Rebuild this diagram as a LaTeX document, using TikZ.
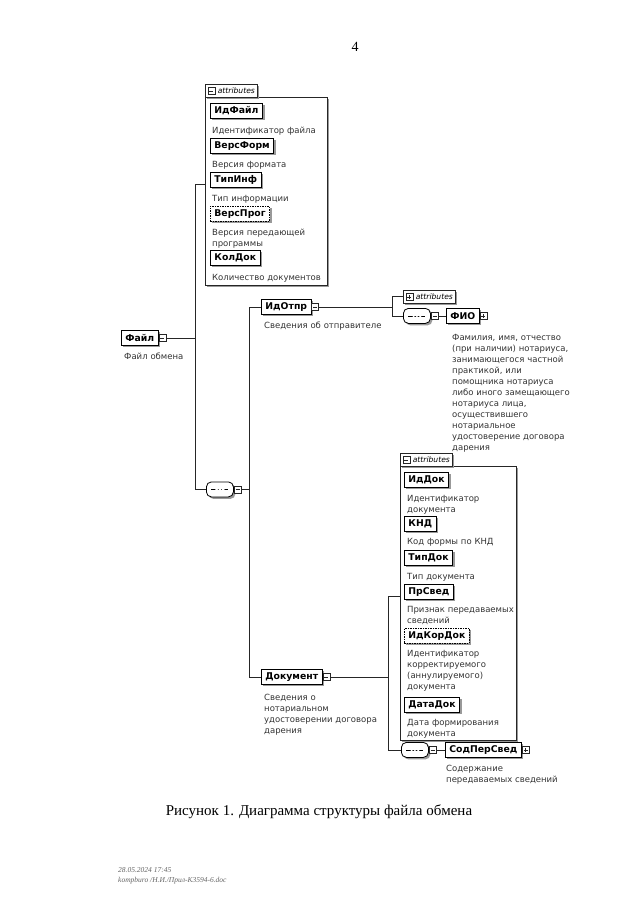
\documentclass[tikz,border=0pt]{standalone}
\usepackage{fontspec}
\setmainfont{Liberation Serif}
\newfontfamily\dg{DejaVu Sans}
\usetikzlibrary{shadows}
\tikzset{
  conn/.style={draw=black!85, line width=0.8pt},
  shad/.style={drop shadow={shadow xshift=2pt, shadow yshift=-2pt, fill=black!40, opacity=1}},
  elem/.style={draw=black, line width=0.8pt, fill=white, anchor=north west, inner xsep=4pt, inner ysep=0pt, minimum height=15pt, font=\dg\bfseries\fontsize{9.3}{10}\selectfont, shad},
  optelem/.style={elem, dash pattern=on 1.5pt off 1pt},
  desc/.style={anchor=base west, inner sep=0pt, text width=150pt, align=left, font=\dg\fontsize{8.5}{11}\selectfont, text=black!80},
  iconbox/.style={draw=black!85, line width=0.5pt, fill=white, minimum size=7pt, inner sep=0pt, anchor=west},
  iconm/.style={iconbox, path picture={\draw[line width=0.5pt] ([xshift=1.5pt]path picture bounding box.west) -- ([xshift=-1.5pt]path picture bounding box.east);}},
  iconp/.style={iconbox, path picture={\draw[line width=0.5pt] ([xshift=1.5pt]path picture bounding box.west) -- ([xshift=-1.5pt]path picture bounding box.east); \draw[line width=0.5pt] ([yshift=-1.5pt]path picture bounding box.north) -- ([yshift=1.5pt]path picture bounding box.south);}},
  seqn/.style={draw=black, line width=0.8pt, fill=white, rounded corners=5pt, anchor=north west, minimum width=27pt, minimum height=15pt, inner sep=0pt, shad, path picture={\draw[line width=0.6pt] ([xshift=5pt]path picture bounding box.west) -- ([xshift=-5pt]path picture bounding box.east); \fill ([xshift=-3.3pt]path picture bounding box.center) circle (1.4pt) (path picture bounding box.center) circle (1.4pt) ([xshift=3.3pt]path picture bounding box.center) circle (1.4pt);}},
  tabn/.style={draw=black!85, line width=0.6pt, fill=white, anchor=north west, minimum height=13pt, inner xsep=2.5pt, inner ysep=0pt, font=\dg\itshape\fontsize{7.6}{8}\selectfont, shad},
  cont/.style={draw=black!85, line width=0.6pt, fill=white, anchor=north west, inner sep=0pt, shad},
  foot/.style={anchor=base west, inner sep=0pt, font=\itshape\fontsize{7.5}{8}\selectfont, text=black!60}
}
\begin{document}
\begin{tikzpicture}[x=1pt,y=-1pt]
\useasboundingbox[fill=white] (0,0) rectangle (640,923);
\node[font=\fontsize{14}{16}\selectfont] (pnum) at (355,47) {4};

% attributes of Файл
\node[cont, minimum width=122pt, minimum height=188pt] (attr1) at (205,97) {};
\node[tabn] (attr1tab) at (205,84) {\hspace*{10pt}attributes};
\node[iconm] (attr1ic) at ([xshift=2.5pt]attr1tab.west) {};
\node[elem] (idfile) at (210,103) {ИдФайл};
\node[desc] (idfiled) at (212,133) {Идентификатор файла};
\node[elem] (versform) at (210,138) {ВерсФорм};
\node[desc] (versformd) at (212,167) {Версия формата};
\node[elem] (tipinf) at (210,172) {ТипИнф};
\node[desc] (tipinfd) at (212,201) {Тип информации};
\node[optelem] (versprog) at (210,206) {ВерсПрог};
\node[desc] (versprogd) at (212,235) {Версия передающей\\программы};
\node[elem] (koldok) at (210,250) {КолДок};
\node[desc] (koldokd) at (212,280) {Количество документов};
\coordinate (attr1in) at (205,184);

% Файл
\node[elem] (file) at (121,330) {Файл};
\node[iconm] (fileic) at (file.east) {};
\node[desc] (filed) at (124,359) {Файл обмена};
\coordinate (j1) at (195,0);

\node[seqn] (seq1) at (206,481.5) {};
\node[iconm] (seq1ic) at (seq1.east) {};
\coordinate (j2) at (249,0);

% ИдОтпр
\node[elem] (idotpr) at (261,299) {ИдОтпр};
\node[iconm] (idotpric) at (idotpr.east) {};
\node[desc] (idotprd) at (264,328) {Сведения об отправителе};
\coordinate (j3) at (392,0);
\node[tabn] (attr2) at (403,290) {\hspace*{10pt}attributes};
\node[iconp] (attr2ic) at ([xshift=2.5pt]attr2.west) {};
\node[seqn] (seq2) at (403,308) {};
\node[iconm] (seq2ic) at (seq2.east) {};
\node[elem] (fio) at (446,308) {ФИО};
\node[iconp] (fioic) at (fio.east) {};
\node[desc] (fiod) at (452,340) {Фамилия, имя, отчество\\(при наличии) нотариуса,\\занимающегося частной\\практикой, или\\помощника нотариуса\\либо иного замещающего\\нотариуса лица,\\осуществившего\\нотариальное\\удостоверение договора\\дарения};

% Документ
\node[elem] (dok) at (261,669) {Документ};
\node[iconm] (dokic) at (dok.east) {};
\node[desc] (dokd) at (264,700) {Сведения о\\нотариальном\\удостоверении договора\\дарения};
\coordinate (j4) at (388,0);
\node[cont, minimum width=116pt, minimum height=274pt] (attr3) at (400,466) {};
\node[tabn] (attr3tab) at (400,453) {\hspace*{10pt}attributes};
\node[iconm] (attr3ic) at ([xshift=2.5pt]attr3tab.west) {};
\coordinate (attr3in) at (400,596);
\node[elem] (iddok) at (404,472) {ИдДок};
\node[desc] (iddokd) at (407,501) {Идентификатор\\документа};
\node[elem] (knd) at (404,516) {КНД};
\node[desc] (kndd) at (407,544) {Код формы по КНД};
\node[elem] (tipdok) at (404,550) {ТипДок};
\node[desc] (tipdokd) at (407,579) {Тип документа};
\node[elem] (prsved) at (404,584) {ПрСвед};
\node[desc] (prsvedd) at (407,612) {Признак передаваемых\\сведений};
\node[optelem] (idkordok) at (404,628) {ИдКорДок};
\node[desc] (idkordokd) at (407,656) {Идентификатор\\корректируемого\\(аннулируемого)\\документа};
\node[elem] (datadok) at (404,697) {ДатаДок};
\node[desc] (datadokd) at (407,725) {Дата формирования\\документа};

\node[seqn] (seq3) at (401,742) {};
\node[iconm] (seq3ic) at (seq3.east) {};
\node[elem] (sod) at (445,742) {СодПерСвед};
\node[iconp] (sodic) at (sod.east) {};
\node[desc] (sodd) at (446,771) {Содержание\\передаваемых сведений};

% connectors
\draw[conn] (fileic.east) -- (fileic.east -| j1);
\draw[conn] (attr1in) -- (attr1in -| j1) -- (seq1.west -| j1) -- (seq1.west);
\draw[conn] (seq1ic.east) -- (seq1ic.east -| j2);
\draw[conn] (idotpr.west) -- (idotpr.west -| j2) -- (dok.west -| j2) -- (dok.west);
\draw[conn] (idotpric.east) -- (idotpric.east -| j3);
\draw[conn] (attr2.west) -- (attr2.west -| j3) -- (seq2.west -| j3) -- (seq2.west);
\draw[conn] (seq2ic.east) -- (fio.west);
\draw[conn] (dokic.east) -- (dokic.east -| j4);
\draw[conn] (attr3in) -- (attr3in -| j4) -- (seq3.west -| j4) -- (seq3.west);
\draw[conn] (seq3ic.east) -- (sod.west);

% caption and footer
\node[font=\fontsize{15}{17}\selectfont, anchor=base] (cap) at (319,815) {Рисунок 1. Диаграмма структуры файла обмена};
\node[foot] (f1) at (118,872) {28.05.2024 17:45};
\node[foot] (f2) at (118,882) {kompburo /Н.И./Прил-К3594-6.doc};
\end{tikzpicture}
\end{document}
